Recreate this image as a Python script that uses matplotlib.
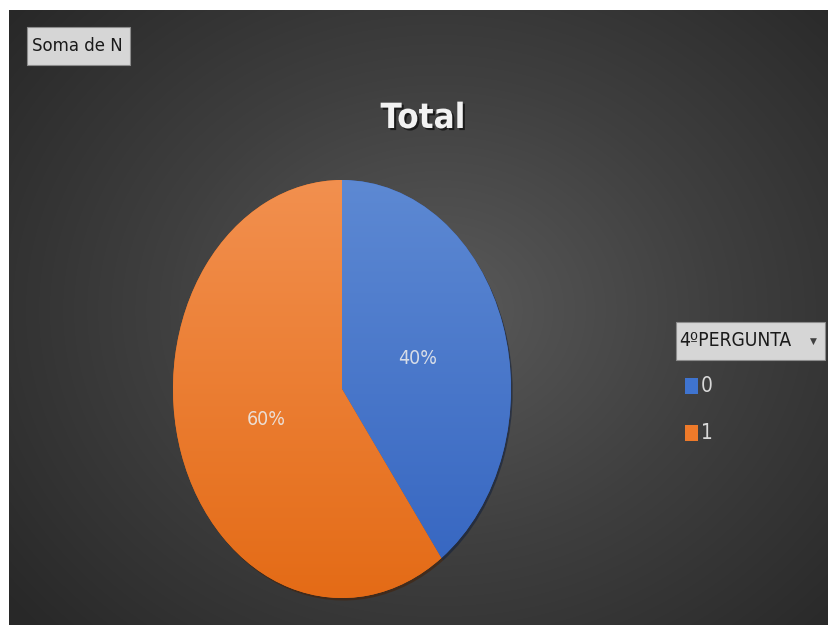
import numpy as np
import matplotlib
matplotlib.use('Agg')
import matplotlib.pyplot as plt
import matplotlib.patheffects as pe
from matplotlib import font_manager
from matplotlib.colors import LinearSegmentedColormap

# dados da 4a pergunta (soma de N, em %)
categorias = ['0', '1']
valores = [40, 60]
cores_topo = ['#5d89d3', '#f2904f']
cores_base = ['#3464c0', '#e46b16']
cores_legenda = ['#3f74d0', '#ee7a2a']

titulo = 'Total'
campo_valor = 'Soma de N'
campo_legenda = '4ºPERGUNTA'

nomes = {f.name for f in font_manager.fontManager.ttflist}
if 'Liberation Sans Narrow' in nomes:
    FONTE = ['Liberation Sans Narrow', 'DejaVu Sans']
    ESTICA = 'normal'
    k = 1.12
else:
    FONTE = ['DejaVu Sans']
    ESTICA = 'condensed'
    k = 1.0

W, H = 829, 625
fig = plt.figure(figsize=(W / 100, H / 100), dpi=100)
fig.patch.set_facecolor('white')


def caixa(px0, py0, px1, py1):
    # converte pixels (origem em cima) para coordenadas da figura
    return [px0 / W, 1 - py1 / H, (px1 - px0) / W, (py1 - py0) / H]


def botao(px0, py0, px1, py1):
    x, y, w, h = caixa(px0, py0, px1, py1)
    fig.patches.append(plt.Rectangle((x, y), w, h, transform=fig.transFigure,
                                     fc='#d6d6d6', ec='#8c8c8c', lw=0.8, zorder=2))


# fundo com gradiente radial
fundo = fig.add_axes(caixa(9, 10, W, H))
fundo.set_axis_off()
yy, xx = np.mgrid[0:615, 0:820]
d = np.sqrt(((xx - 430) / 560.0) ** 2 + ((yy - 300) / 470.0) ** 2)
d = np.clip(d, 0, 1)
cmap_fundo = LinearSegmentedColormap.from_list('fundo', ['#5a5a5a', '#3f3f3f', '#282828'])
fundo.imshow(d, cmap=cmap_fundo, vmin=0, vmax=1, aspect='auto', interpolation='bilinear')

# pizza (eixo esticado na vertical -> elipse)
ax = fig.add_axes(caixa(173, 180, 511, 598))
fatias, textos = ax.pie(valores, startangle=90, counterclock=False, radius=1,
                        colors=cores_base, wedgeprops=dict(linewidth=0))
ax.set_aspect('auto')
ax.set_axis_off()

for fatia, c0, c1 in zip(fatias, cores_topo, cores_base):
    fatia.set_path_effects([pe.SimplePatchShadow(offset=(1.2, -1.8), alpha=0.55), pe.Normal()])
    grad = LinearSegmentedColormap.from_list('g', [c0, c1])
    img = ax.imshow(np.linspace(0, 1, 256).reshape(-1, 1), cmap=grad, extent=(-1, 1, -1, 1),
                    aspect='auto', origin='upper', zorder=fatia.get_zorder() + 0.1)
    img.set_clip_path(fatia)

ax.set_xlim(-1, 1)
ax.set_ylim(-1, 1)

# rotulos de porcentagem
total = sum(valores)
ang = 90.0
for v in valores:
    meio = np.deg2rad(ang - 360.0 * v / total / 2)
    ang -= 360.0 * v / total
    ax.text(0.47 * np.cos(meio), 0.47 * np.sin(meio), '%d%%' % round(100 * v / total),
            ha='center', va='center', color='#ececec', alpha=0.88, fontsize=14 * k,
            family=FONTE, stretch=ESTICA, zorder=5)

# titulo
fig.text(423 / W, 1 - 118 / H, titulo, ha='center', va='center', fontsize=25 * k,
         fontweight='bold', color='#f2f2f2', family=FONTE, stretch=ESTICA,
         path_effects=[pe.withSimplePatchShadow(offset=(1.5, -1.5), shadow_rgbFace='black', alpha=0.6)])

# botao "Soma de N"
botao(27, 27, 130, 65)
fig.text(32 / W, 1 - 46 / H, campo_valor, ha='left', va='center', fontsize=13.2 * k,
         color='#1a1a1a', family=FONTE, stretch=ESTICA, zorder=3)

# botao da legenda
botao(676, 322, 825, 360)
fig.text(679 / W, 1 - 341 / H, campo_legenda, ha='left', va='center', fontsize=13.8 * k,
         color='#1a1a1a', family=FONTE, stretch=ESTICA, zorder=3)
fig.text(813 / W, 1 - 341 / H, '▼', ha='center', va='center', fontsize=6.5,
         color='#404040', family=['DejaVu Sans'], zorder=3)

# legenda
leg_y = [386, 433]
for cat, cor, y in zip(categorias, cores_legenda, leg_y):
    fig.patches.append(plt.Rectangle((685 / W, 1 - (y + 8) / H), 13 / W, 16 / H,
                                     transform=fig.transFigure, fc=cor, ec='none'))
    fig.text(701 / W, 1 - y / H, cat, ha='left', va='center', fontsize=15 * k,
             color='#d9d9d9', family=FONTE, stretch=ESTICA)

fig.savefig('out.png', dpi=100, facecolor=fig.get_facecolor())
